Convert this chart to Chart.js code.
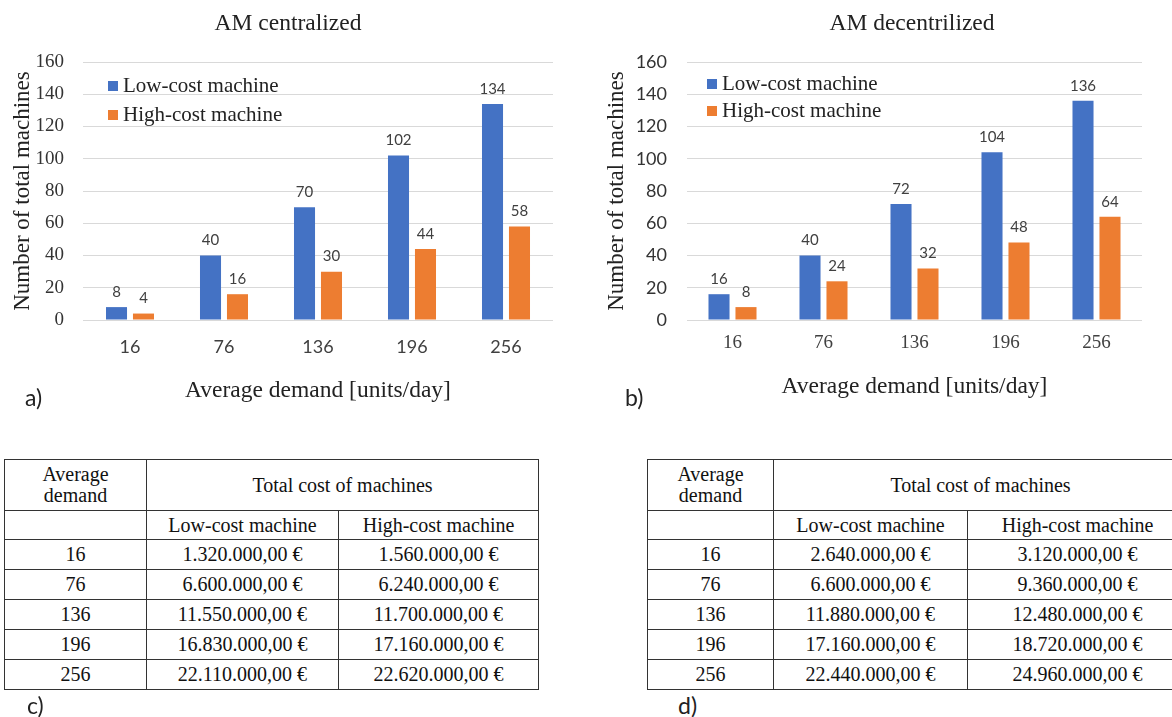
<!DOCTYPE html>
<html lang="en">
<head>
<meta charset="UTF-8">
<title>AM centralized / AM decentrilized</title>
<script src="https://cdn.jsdelivr.net/npm/chart.js"></script>
<style>
  body { margin: 0; width: 1172px; height: 717px; background: #fff; position: relative; overflow: hidden; }
  .box { position: absolute; }
  .titulo { position: absolute; top: 8px; font-family: "Liberation Serif", serif; font-size: 23.5px; color: #222; line-height: 1.2; white-space: nowrap; transform: translateX(-50%); }
  .tag { position: absolute; font-family: Lato, sans-serif; font-size: 23px; color: #222; line-height: 1; }
  table { position: absolute; border-collapse: collapse; font-family: "Liberation Serif", serif; font-size: 20px; color: #111; table-layout: fixed; }
  td { border: 1.5px solid #333; text-align: center; padding: 0; line-height: 1.05; }
</style>
</head>
<body>

<div class="box" style="left:0;top:0;width:570px;height:420px;"><canvas id="graficoA"></canvas></div>
<div class="box" style="left:590px;top:0;width:564px;height:420px;"><canvas id="graficoB"></canvas></div>

<div class="titulo" style="left:288px;">AM centralized</div>
<div class="titulo" style="left:912px;">AM decentrilized</div>

<div class="tag" style="left:25px;top:386px;">a)</div>
<div class="tag" style="left:625px;top:386px;">b)</div>

<table id="tabelaC" style="left:4px;top:459px;width:534px;"></table>
<table id="tabelaD" style="left:647px;top:459px;width:540px;"></table>

<div class="tag" style="left:27px;top:694px;">c)</div>
<div class="tag" style="left:678px;top:694px;">d)</div>

<script>
// dados dos graficos
const demandas = ["16", "76", "136", "196", "256"];
const serieNomes = ["Low-cost machine", "High-cost machine"];
const lowCentral = [8, 40, 70, 102, 134];
const highCentral = [4, 16, 30, 44, 58];
const lowDecentral = [16, 40, 72, 104, 136];
const highDecentral = [8, 24, 32, 48, 64];
const yMax = 160;
const yPasso = 20;

// dados das tabelas
const custoLowCentral = ["1.320.000,00 €", "6.600.000,00 €", "11.550.000,00 €", "16.830.000,00 €", "22.110.000,00 €"];
const custoHighCentral = ["1.560.000,00 €", "6.240.000,00 €", "11.700.000,00 €", "17.160.000,00 €", "22.620.000,00 €"];
const custoLowDecentral = ["2.640.000,00 €", "6.600.000,00 €", "11.880.000,00 €", "17.160.000,00 €", "22.440.000,00 €"];
const custoHighDecentral = ["3.120.000,00 €", "9.360.000,00 €", "12.480.000,00 €", "18.720.000,00 €", "24.960.000,00 €"];

const azul = "#4472C4";
const laranja = "#ED7D31";
const serif = "Liberation Serif, serif";
const sans = "Lato, sans-serif";

// escreve o valor em cima de cada barra
const rotulosBarras = {
  id: "rotulosBarras",
  afterDatasetsDraw(chart) {
    const ctx = chart.ctx;
    ctx.save();
    ctx.font = "15px " + sans;
    ctx.fillStyle = "#404040";
    ctx.textAlign = "center";
    ctx.textBaseline = "middle";
    chart.data.datasets.forEach((ds, i) => {
      chart.getDatasetMeta(i).data.forEach((bar, j) => {
        ctx.fillText(ds.data[j], bar.x, bar.y - 15);
      });
    });
    ctx.restore();
  }
};

// legenda dentro da area do grafico
const legendaDentro = {
  id: "legendaDentro",
  afterDraw(chart, args, opts) {
    const ctx = chart.ctx;
    const a = chart.chartArea;
    ctx.save();
    ctx.font = "21px " + serif;
    ctx.textBaseline = "middle";
    chart.data.datasets.forEach((ds, i) => {
      const y = a.top + opts.dy + i * opts.passo;
      ctx.fillStyle = ds.backgroundColor;
      ctx.fillRect(a.left + opts.dx, y - 5, 10, 10);
      ctx.fillStyle = "#222";
      ctx.fillText(ds.label, a.left + opts.dx + 15, y);
    });
    ctx.restore();
  }
};

// cfg: tamanhos e fontes de cada grafico
function criaGrafico(id, low, high, cfg) {
  return new Chart(document.getElementById(id), {
    type: "bar",
    data: {
      labels: demandas,
      datasets: [
        { label: serieNomes[0], data: low, backgroundColor: azul, categoryPercentage: cfg.catPct, barPercentage: 0.78 },
        { label: serieNomes[1], data: high, backgroundColor: laranja, categoryPercentage: cfg.catPct, barPercentage: 0.78 }
      ]
    },
    options: {
      responsive: true,
      maintainAspectRatio: false,
      animation: false,
      layout: { padding: { left: 0, right: cfg.direita, top: 62, bottom: 0 } },
      plugins: {
        legend: { display: false },
        tooltip: { enabled: false },
        legendaDentro: cfg.legenda
      },
      scales: {
        x: {
          afterFit: s => { s.height = 100; },
          grid: { display: false, drawTicks: false },
          border: { display: false },
          ticks: { color: "#404040", font: cfg.fonteX, padding: cfg.padX },
          title: {
            display: true, text: "Average demand [units/day]", color: "#222",
            font: { family: serif, size: 23.5 }, padding: { top: 0, bottom: cfg.padTituloX }
          }
        },
        y: {
          afterFit: s => { s.width = cfg.larguraY; },
          min: 0, max: yMax,
          grid: { color: "#D9D9D9", drawTicks: false },
          border: { display: false },
          ticks: { stepSize: yPasso, color: "#333", font: cfg.fonteY, padding: cfg.padY },
          title: {
            display: true, text: "Number of total machines", color: "#222",
            font: { family: serif, size: 23 }, padding: { top: cfg.padTituloY, bottom: 0 }
          }
        }
      }
    },
    plugins: [rotulosBarras, legendaDentro]
  });
}

criaGrafico("graficoA", lowCentral, highCentral, {
  catPct: 0.574, direita: 17, larguraY: 83, padY: 19, padTituloY: 9,
  fonteY: { family: serif, size: 19 }, fonteX: { family: sans, size: 18 },
  padX: 16, padTituloX: 15, legenda: { dx: 25, dy: 24, passo: 29 }
});

criaGrafico("graficoB", lowDecentral, highDecentral, {
  catPct: 0.593, direita: 12, larguraY: 97, padY: 20, padTituloY: 13,
  fonteY: { family: sans, size: 18 }, fonteX: { family: serif, size: 19 },
  padX: 12, padTituloX: 19, legenda: { dx: 20, dy: 22, passo: 27 }
});

// monta as tabelas
function montaTabela(id, low, high, larguras) {
  const t = document.getElementById(id);
  let html = "<colgroup>" + larguras.map(w => '<col style="width:' + w + 'px">').join("") + "</colgroup>";
  html += '<tr style="height:51px"><td>Average<br>demand</td><td colspan="2">Total cost of machines</td></tr>';
  html += '<tr style="height:29px"><td></td><td>' + serieNomes[0] + "</td><td>" + serieNomes[1] + "</td></tr>";
  demandas.forEach((d, i) => {
    html += '<tr style="height:30px"><td>' + d + "</td><td>" + low[i] + "</td><td>" + high[i] + "</td></tr>";
  });
  t.innerHTML = html;
}
montaTabela("tabelaC", custoLowCentral, custoHighCentral, [142, 192, 200]);
montaTabela("tabelaD", custoLowDecentral, custoHighDecentral, [126, 194, 220]);
</script>
</body>
</html>
